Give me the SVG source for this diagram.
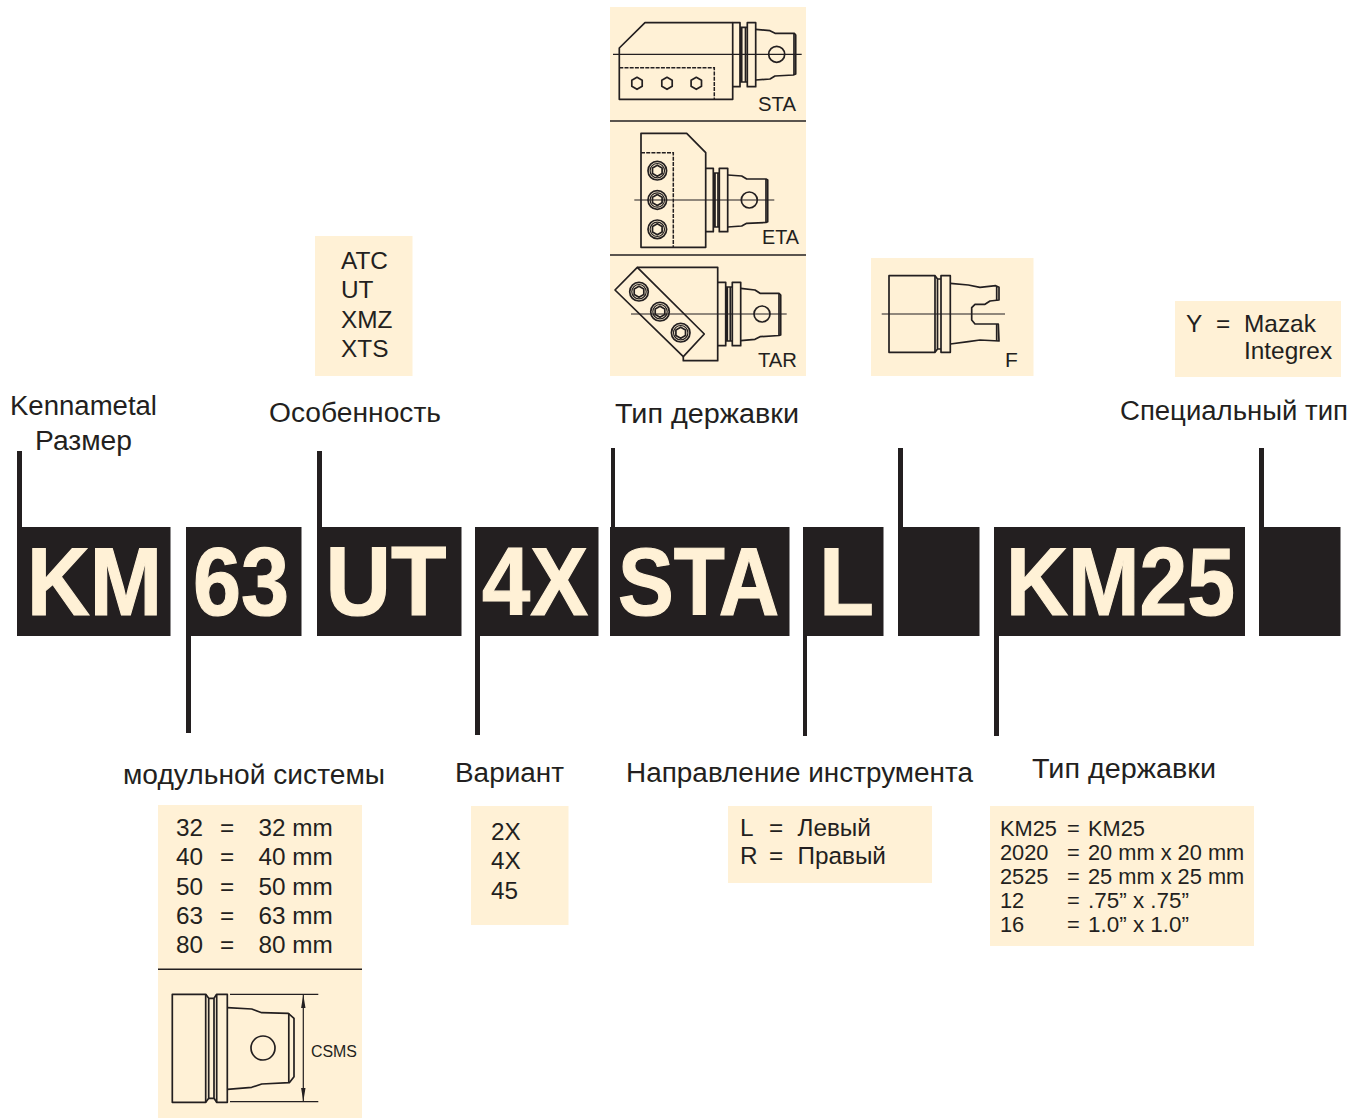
<svg xmlns="http://www.w3.org/2000/svg" width="1360" height="1118" viewBox="0 0 1360 1118">
<style>
text{font-family:"Liberation Sans",Arial,sans-serif;fill:#231f20}
.box{fill:#231f20}
.panel{fill:#fff1d6}
.big{font-weight:700;font-size:96px;fill:#fff1d6;stroke:#fff1d6;stroke-width:1.2}
.lab{font-size:27px}
.t{font-size:24.400px}
.s{font-size:24.300px}
.k{font-size:21.800px}
.c{font-size:21px}
.d{fill:none;stroke:#231f20;stroke-width:1.7;stroke-linejoin:round}
.th{fill:none;stroke:#231f20;stroke-width:1.200}
.dash{fill:none;stroke:#231f20;stroke-width:1.500;stroke-dasharray:4 1.200}
.rule{stroke:#231f20;stroke-width:1.600}
</style>
<defs>
<g id="hex"><path class="d" d="M0-6L5.2-3V3L0 6L-5.2 3V-3Z"/></g>
<g id="bolt"><circle class="d" r="9.300"/><circle class="th" r="7.200"/><path class="d" d="M0-5.500L4.800-2.800V2.800L0 5.500L-4.800 2.800V-2.800Z"/></g>
</defs>

<g id="connectors" fill="#231f20">
<rect x="17" y="451" width="5" height="80"/>
<rect x="317" y="451" width="5" height="80"/>
<rect x="611" y="448" width="4" height="83"/>
<rect x="898" y="448" width="5" height="83"/>
<rect x="1259" y="448" width="5" height="83"/>
<rect x="186" y="620" width="5" height="113"/>
<rect x="475" y="620" width="5" height="115"/>
<rect x="803" y="620" width="4" height="116"/>
<rect x="994" y="617" width="5" height="119"/>
</g>

<g id="code-km"><rect class="box" x="17" y="527" width="153.500" height="109"/><text class="big" x="27" y="615" textLength="135" lengthAdjust="spacingAndGlyphs">KM</text></g>
<g id="code-63"><rect class="box" x="186" y="527" width="115.500" height="109"/><text class="big" x="193" y="615" textLength="96" lengthAdjust="spacingAndGlyphs">63</text></g>
<g id="code-ut"><rect class="box" x="317" y="527" width="144.500" height="109"/><text class="big" x="325.500" y="615" textLength="121" lengthAdjust="spacingAndGlyphs" style="font-size:98px">UT</text></g>
<g id="code-4x"><rect class="box" x="475" y="527" width="123.500" height="109"/><text class="big" x="482" y="615" textLength="106" lengthAdjust="spacingAndGlyphs">4X</text></g>
<g id="code-sta"><rect class="box" x="610" y="527" width="179.500" height="109"/><text class="big" x="618" y="615" textLength="161" lengthAdjust="spacingAndGlyphs">STA</text></g>
<g id="code-l"><rect class="box" x="803" y="527" width="80.500" height="109"/><text class="big" x="819" y="615" textLength="55" lengthAdjust="spacingAndGlyphs">L</text></g>
<g id="code-blank1"><rect class="box" x="898" y="527" width="81.500" height="109"/></g>
<g id="code-km25"><rect class="box" x="994" y="527" width="251" height="109"/><text class="big" x="1006" y="615" textLength="229" lengthAdjust="spacingAndGlyphs">KM25</text></g>
<g id="code-blank2"><rect class="box" x="1259" y="527" width="81.500" height="109"/></g>

<g id="label-size"><text class="lab" x="10" y="415" textLength="147" lengthAdjust="spacingAndGlyphs">Kennametal</text><text class="lab" x="35" y="450" textLength="97" lengthAdjust="spacingAndGlyphs">Размер</text></g>
<g id="label-feature"><text class="lab" x="269" y="422" textLength="172" lengthAdjust="spacingAndGlyphs">Особенность</text></g>
<g id="label-holder"><text class="lab" x="615" y="423" textLength="184" lengthAdjust="spacingAndGlyphs">Тип державки</text></g>
<g id="label-special"><text class="lab" x="1120" y="420" textLength="228" lengthAdjust="spacingAndGlyphs">Специальный тип</text></g>
<g id="label-module"><text class="lab" x="123" y="784" textLength="262" lengthAdjust="spacingAndGlyphs">модульной системы</text></g>
<g id="label-variant"><text class="lab" x="455" y="782" textLength="109" lengthAdjust="spacingAndGlyphs">Вариант</text></g>
<g id="label-direction"><text class="lab" x="626" y="782" textLength="347" lengthAdjust="spacingAndGlyphs">Направление инструмента</text></g>
<g id="label-holder2"><text class="lab" x="1032" y="778" textLength="184" lengthAdjust="spacingAndGlyphs">Тип державки</text></g>

<g id="panel-feature"><rect class="panel" x="315" y="236" width="97.500" height="140"/>
<text class="t" x="341" y="269">ATC</text><text class="t" x="341" y="298">UT</text><text class="t" x="341" y="328">XMZ</text><text class="t" x="341" y="357">XTS</text></g>

<g id="panel-special"><rect class="panel" x="1175" y="301" width="166" height="76"/>
<text class="t" x="1186" y="332">Y</text><text class="t" x="1216" y="332">=</text><text class="t" x="1244" y="332">Mazak</text><text class="t" x="1244" y="359">Integrex</text></g>

<g id="panel-module"><rect class="panel" x="158" y="805" width="204" height="313"/>
<text class="s" x="176" y="836">32</text><text class="s" x="220" y="836">=</text><text class="s" x="258.500" y="836">32 mm</text>
<text class="s" x="176" y="865">40</text><text class="s" x="220" y="865">=</text><text class="s" x="258.500" y="865">40 mm</text>
<text class="s" x="176" y="895">50</text><text class="s" x="220" y="895">=</text><text class="s" x="258.500" y="895">50 mm</text>
<text class="s" x="176" y="924">63</text><text class="s" x="220" y="924">=</text><text class="s" x="258.500" y="924">63 mm</text>
<text class="s" x="176" y="953">80</text><text class="s" x="220" y="953">=</text><text class="s" x="258.500" y="953">80 mm</text>
<line class="rule" x1="158" y1="969.300" x2="362" y2="969.300"/>
<rect class="d" x="172.300" y="994.300" width="33.400" height="108"/>
<rect class="d" x="216.700" y="994.300" width="10.600" height="108"/>
<path class="d" d="M205.700 994.300L208.700 998.300H214L216.700 994.300M205.700 1102.300L208.700 1098.300H214L216.700 1102.300M208.700 998.300V1098.300M214 998.300V1098.300"/>
<path class="d" d="M227.300 1007.700L251.700 1009L261.700 1012.700L288.300 1013.300L294 1018.300V1076.700L289.300 1082.700L261.700 1084L251.700 1087.300L227.300 1089.300"/>
<path class="d" d="M288.800 1013.300V1082.700"/>
<circle class="d" cx="263" cy="1048" r="12"/>
<path class="th" d="M230 994.300H318.300M230 1101.700H318.300M303.300 995V1101"/>
<path fill="#231f20" d="M303.300 994.800L305.500 1008H301.100ZM303.300 1101.400L305.500 1088H301.100Z"/>
<text x="311" y="1056.700" font-size="16" textLength="46" lengthAdjust="spacingAndGlyphs">CSMS</text>
</g>

<g id="panel-variant"><rect class="panel" x="471" y="806" width="97.500" height="119"/>
<text class="s" x="491" y="840">2X</text><text class="s" x="491" y="869">4X</text><text class="s" x="491" y="899">45</text></g>

<g id="panel-direction"><rect class="panel" x="728" y="806" width="204" height="77"/>
<text class="s" x="740" y="836">L</text><text class="s" x="769" y="836">=</text><text class="s" x="797.500" y="836">Левый</text>
<text class="s" x="740" y="864">R</text><text class="s" x="769" y="864">=</text><text class="s" x="797.500" y="864">Правый</text></g>

<g id="panel-holder-size"><rect class="panel" x="990" y="806" width="264" height="140"/>
<text class="k" x="1000" y="836">KM25</text><text class="k" x="1067" y="836">=</text><text class="k" x="1088" y="836">KM25</text>
<text class="k" x="1000" y="860">2020</text><text class="k" x="1067" y="860">=</text><text class="k" x="1088" y="860">20 mm x 20 mm</text>
<text class="k" x="1000" y="884">2525</text><text class="k" x="1067" y="884">=</text><text class="k" x="1088" y="884">25 mm x 25 mm</text>
<text class="k" x="1000" y="908">12</text><text class="k" x="1067" y="908">=</text><text class="k" x="1088" y="908" textLength="101" lengthAdjust="spacingAndGlyphs">.75” x .75”</text>
<text class="k" x="1000" y="932">16</text><text class="k" x="1067" y="932">=</text><text class="k" x="1088" y="932" textLength="101" lengthAdjust="spacingAndGlyphs">1.0” x 1.0”</text></g>

<g id="panel-holder-types"><rect class="panel" x="610" y="7" width="196" height="369"/></g>

<g id="holder-sta">
<path class="d" d="M619.300 99.300V48L645 22.700H732.700V99.300Z"/>
<path class="dash" d="M619.300 67.700H714.300V99.300"/>
<path class="d" d="M732.700 22.700H740V86.700H732.700M741.700 27.300V82M745.500 27.300V82M740 27.300H747.300M740 82H747.300"/>
<rect class="d" x="747.300" y="22.700" width="8.400" height="64"/>
<path class="d" d="M755.700 29.300L770 30.700L775 33.300H794.300L795.700 35V74L793.300 75L775 76L770 79L755.700 80"/>
<path class="d" d="M794 33.300V75"/>
<line class="th" x1="613" y1="54.300" x2="801.700" y2="54.300"/>
<circle class="d" cx="776.700" cy="54.300" r="8"/>
<use href="#hex" x="637" y="83.300"/><use href="#hex" x="667" y="83.300"/><use href="#hex" x="696.300" y="83.300"/>
<text class="c" x="758" y="110.500" textLength="38" lengthAdjust="spacingAndGlyphs">STA</text>
<line class="rule" x1="610" y1="121" x2="806" y2="121"/>
</g>

<g id="holder-eta">
<path class="d" d="M641 133.300H686.700L705.700 152.700V247.300H641Z"/>
<path class="dash" d="M641 152.700H673.300V247.300"/>
<path class="d" d="M705.700 168.300H713.300V231.700H705.700M715 173V227M718 173V227M713.300 173H719.300M713.300 227H719.300"/>
<rect class="d" x="719.300" y="168.300" width="8.400" height="63.400"/>
<path class="d" d="M727.700 175L741.700 176L746.700 179H766L767.700 180V221.700L766 222.500L746.700 223.300L741.700 226L727.700 227"/>
<path class="d" d="M766 179V222.500"/>
<line class="th" x1="634.300" y1="200" x2="774.300" y2="200"/>
<circle class="d" cx="749.300" cy="200" r="8"/>
<use href="#bolt" x="657.300" y="170.700"/><use href="#bolt" x="657.300" y="200"/><use href="#bolt" x="657.300" y="229.300"/>
<text class="c" x="762" y="244" textLength="37" lengthAdjust="spacingAndGlyphs">ETA</text>
<line class="rule" x1="610" y1="255" x2="806" y2="255"/>
</g>

<g id="holder-tar">
<path class="d" d="M637.300 267.300L704.300 334L683.300 356.700L615 290Z"/>
<path class="d" d="M637.300 267.300H717.700V360.700H683.300V356.700"/>
<path class="d" d="M717.700 282.300H725.700V345.700H717.700M727.300 287V341M730.300 287V341M725.700 287H732.300M725.700 341H732.300"/>
<rect class="d" x="732.300" y="282.300" width="8.400" height="63.400"/>
<path class="d" d="M740.700 288.300L755 290L760 293.300H779L780.700 295V335L779 335.500L760 336.700L755 339.300L740.700 340.700"/>
<path class="d" d="M779 293.300V335.500"/>
<line class="th" x1="631" y1="314" x2="786.700" y2="314"/>
<circle class="d" cx="762" cy="314" r="8"/>
<use href="#bolt" x="639" y="291.700"/><use href="#bolt" x="660" y="311.700"/><use href="#bolt" x="680.700" y="332.700"/>
<text class="c" x="758" y="367" textLength="39" lengthAdjust="spacingAndGlyphs">TAR</text>
</g>

<g id="panel-f"><rect class="panel" x="871" y="258" width="162.500" height="118"/>
<rect class="d" x="889" y="275.700" width="46" height="76.600"/>
<rect class="d" x="941" y="275.700" width="9.300" height="76.600"/>
<path class="d" d="M935 275.700L937.500 279H941M935 352.300L937.500 349H941M937.500 279V349"/>
<path class="d" d="M950.300 283.300L968.300 285L980 287.300L995.700 285.700L999 287.300V300L990 301L985 304.300H975L971.700 307.700V320L975 324H998.300L999 341L980 340L968.300 341.700L950.300 344"/>
<path class="d" d="M996.700 286V300.500M996.700 324V341"/>
<line class="th" x1="881.700" y1="314" x2="1005" y2="314"/>
<text class="c" x="1005" y="367">F</text>
</g>
</svg>
